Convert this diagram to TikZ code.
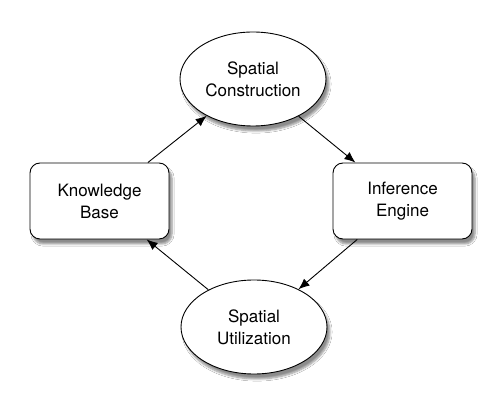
\documentclass[tikz,border=0pt]{standalone}
\usepackage{fontspec}
\setmainfont{TeX Gyre Heros}
\usetikzlibrary{arrows.meta,shapes.geometric,shadows.blur}

\begin{document}
\begin{tikzpicture}[
  x=1pt, y=1pt, >={Latex[length=11pt,width=9pt]},
  font=\fontsize{17}{22}\selectfont, line width=0.9pt,
  stage/.style={draw, ellipse, fill=white, align=center, minimum width=146pt,
    minimum height=94pt, inner sep=0pt,
    blur shadow={shadow xshift=3pt, shadow yshift=-5pt, shadow blur steps=6, shadow opacity=45}},
  unit/.style={draw, rounded corners=10pt, fill=white, align=center,
    minimum width=139pt, minimum height=76pt, inner sep=0pt,
    blur shadow={shadow xshift=3pt, shadow yshift=-5pt, shadow blur steps=6, shadow opacity=45}},
]
  \useasboundingbox (0,0) rectangle (500,409);
  \fill[white] (0,0) rectangle (500,409);

  \node[stage] (cons) at (253,330) {Spatial\\Construction};
  \node[unit]  (eng)  at (402.5,208) {Inference\\Engine};
  \node[stage] (util) at (254,82) {Spatial\\Utilization};
  \node[unit]  (kb)   at (99.5,208) {Knowledge\\Base};

  \draw[->] (kb)   -- (cons);
  \draw[->] (cons) -- (eng);
  \draw[->] (eng)  -- (util);
  \draw[->] (util) -- (kb);
\end{tikzpicture}
\end{document}
